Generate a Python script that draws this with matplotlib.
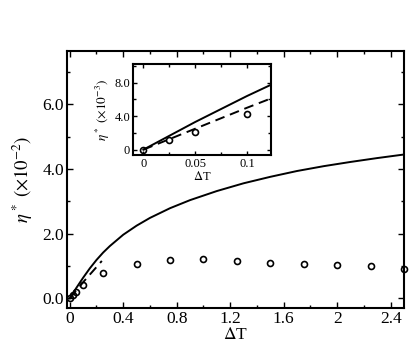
import matplotlib
matplotlib.use('Agg')
import matplotlib.pyplot as plt
from matplotlib.ticker import MultipleLocator, FixedLocator, FixedFormatter

plt.rcParams['font.family'] = ['Liberation Serif', 'DejaVu Serif']
plt.rcParams['mathtext.fontset'] = 'stix'

# simulation points (eta in units of 1e-2)
dT_sim = [0, 0.025, 0.05, 0.1, 0.25, 0.5, 0.75, 1.0, 1.25, 1.5, 1.75, 2.0, 2.25, 2.5]
eta_sim = [0, 0.11, 0.21, 0.42, 0.79, 1.07, 1.19, 1.21, 1.17, 1.11, 1.07, 1.03, 0.99, 0.92]

# theory (solid)
dT_th = [0, 0.05, 0.1, 0.15, 0.2, 0.25, 0.3, 0.4, 0.5, 0.6, 0.75, 0.9, 1.1, 1.3,
         1.5, 1.7, 1.9, 2.1, 2.3, 2.5]
eta_th = [0, 0.33, 0.64, 0.93, 1.19, 1.42, 1.62, 1.97, 2.25, 2.49, 2.79, 3.04, 3.32, 3.56,
          3.76, 3.94, 4.09, 4.22, 4.34, 4.45]

# linear approximation (dashed)
dT_lin = [0, 0.05, 0.1, 0.125, 0.2, 0.24]
eta_lin = [0, 0.25, 0.50, 0.62, 0.97, 1.16]

fig = plt.figure(figsize=(4.15, 3.47), dpi=100)
ax = fig.add_axes([0.161, 0.112, 0.8125, 0.741])

ax.plot(dT_th, eta_th, 'k-', lw=1.4)
ax.plot(dT_lin, eta_lin, 'k--', lw=1.4, dashes=(5, 3))
ax.plot(dT_sim, eta_sim, 'o', mfc='none', mec='k', mew=1.2, ms=4.3, clip_on=False)

ax.set_xlim(-0.022, 2.5)
ax.set_ylim(-0.3, 7.65)
ax.xaxis.set_major_locator(FixedLocator([0, 0.4, 0.8, 1.2, 1.6, 2.0, 2.4]))
ax.xaxis.set_major_formatter(FixedFormatter(['0', '0.4', '0.8', '1.2', '1.6', '2', '2.4']))
ax.xaxis.set_minor_locator(MultipleLocator(0.2))
ax.yaxis.set_major_locator(FixedLocator([0, 2, 4, 6]))
ax.yaxis.set_major_formatter(FixedFormatter(['0.0', '2.0', '4.0', '6.0']))
ax.yaxis.set_minor_locator(MultipleLocator(1))
ax.tick_params(which='both', direction='in', top=True, right=True, labelsize=12.5, pad=2)
ax.tick_params(which='major', length=4, width=1)
ax.tick_params(which='minor', length=2.5, width=1)
for s in ax.spines.values():
    s.set_linewidth(1.5)
ax.set_xlabel(r'$\Delta$T', fontsize=12.5, labelpad=0)
ax.set_ylabel(r'$\eta^*$ $(\times10^{-2})$', fontsize=13.5, labelpad=5)

# inset
ins = fig.add_axes([0.3205, 0.553, 0.332, 0.262])
ins.plot(dT_th, [v * 10 for v in eta_th], 'k-', lw=1.4)
ins.plot(dT_lin, [v * 10 for v in eta_lin], 'k--', lw=1.4, dashes=(5, 3))
ins.plot(dT_sim, [v * 10 for v in eta_sim], 'o', mfc='none', mec='k', mew=1.2, ms=4.3)
ins.set_xlim(-0.01, 0.123)
ins.set_ylim(-0.65, 10.2)
ins.xaxis.set_major_locator(FixedLocator([0, 0.05, 0.1]))
ins.xaxis.set_major_formatter(FixedFormatter(['0', '0.05', '0.1']))
ins.xaxis.set_minor_locator(MultipleLocator(0.025))
ins.yaxis.set_major_locator(FixedLocator([0, 4, 8]))
ins.yaxis.set_major_formatter(FixedFormatter(['0', '4.0', '8.0']))
ins.yaxis.set_minor_locator(MultipleLocator(2))
ins.tick_params(which='both', direction='in', top=True, right=True, labelsize=9, pad=2)
ins.tick_params(which='major', length=3, width=1)
ins.tick_params(which='minor', length=2, width=1)
for s in ins.spines.values():
    s.set_linewidth(1.5)
ins.set_xlabel(r'$\Delta$T', fontsize=9, labelpad=0)
ins.set_ylabel(r'$\eta^*$ $(\times10^{-3})$', fontsize=9.5, labelpad=2)

fig.savefig('out.png', dpi=100)
